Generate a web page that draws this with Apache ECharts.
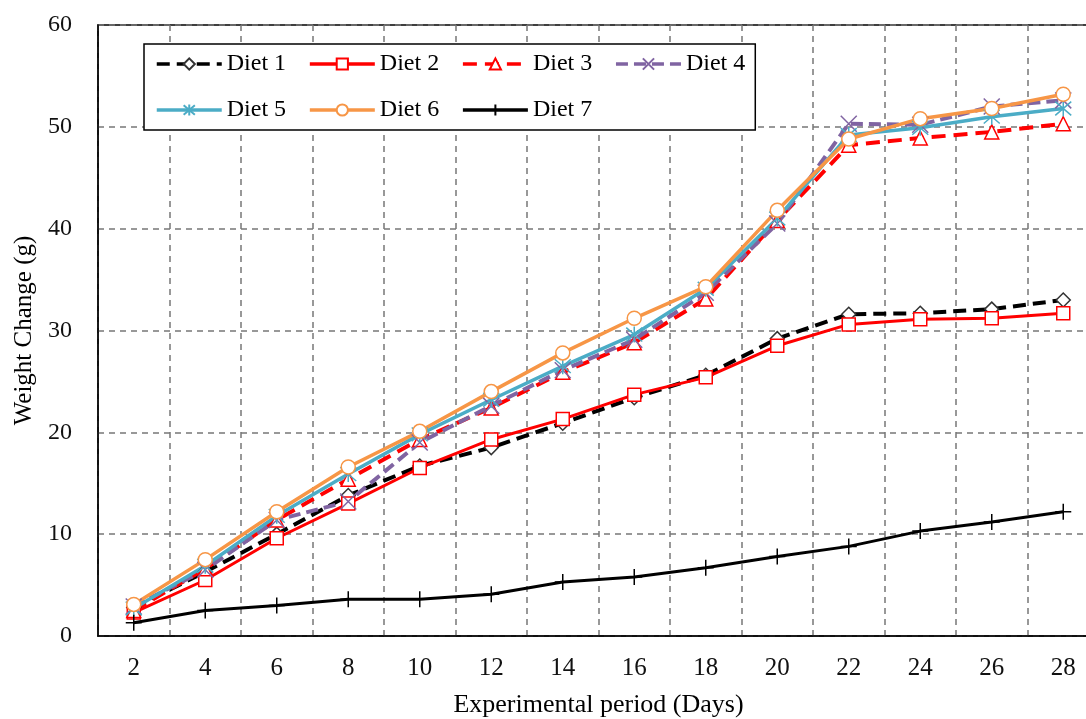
<!DOCTYPE html>
<html>
<head>
<meta charset="utf-8">
<style>
  html, body { margin: 0; padding: 0; background: #fff; }
  #chart-container { width: 1086px; height: 719px; }
</style>
<script src="https://cdn.jsdelivr.net/npm/echarts@6/dist/echarts.min.js"></script>
</head>
<body>
<div id="chart-container"></div>
<script>
var days = ['2', '4', '6', '8', '10', '12', '14', '16', '18', '20', '22', '24', '26', '28'];
var yTicks = [0, 10, 20, 30, 40, 50, 60];

var diet1 = [2.8, 6.3, 10.0, 13.8, 16.7, 18.5, 20.9, 23.4, 25.6, 29.2, 31.6, 31.7, 32.1, 33.0];
var diet2 = [2.3, 5.5, 9.6, 13.0, 16.5, 19.3, 21.3, 23.7, 25.4, 28.5, 30.6, 31.1, 31.2, 31.7];
var diet3 = [2.5, 6.6, 11.4, 15.4, 19.3, 22.4, 25.9, 28.8, 33.1, 40.8, 48.2, 48.9, 49.5, 50.3];
var diet4 = [2.9, 6.5, 11.4, 13.2, 19.0, 22.6, 26.1, 29.1, 33.7, 40.5, 50.3, 50.2, 52.0, 52.6];
var diet5 = [2.7, 6.9, 11.8, 15.9, 19.8, 23.2, 26.5, 29.6, 34.1, 41.0, 49.2, 49.9, 51.0, 51.8];
var diet6 = [3.1, 7.5, 12.2, 16.6, 20.1, 24.0, 27.8, 31.2, 34.3, 41.8, 48.8, 50.8, 51.8, 53.2];
var diet7 = [1.3, 2.5, 3.0, 3.6, 3.6, 4.1, 5.3, 5.8, 6.7, 7.8, 8.8, 10.3, 11.2, 12.2];

var serif = '"Liberation Serif", "DejaVu Serif", serif';

var dom = document.getElementById('chart-container');
var myChart = echarts.init(dom, null, { renderer: 'canvas' });

// helper for one line series
function makeSeries(name, data, color, lineType, width, symbol, size, fill) {
  return {
    name: name,
    type: 'line',
    data: data,
    symbol: symbol,
    symbolSize: size,
    showAllSymbol: true,
    lineStyle: { color: color, width: width, type: lineType },
    itemStyle: { color: fill, borderColor: color, borderWidth: 1.5 },
    emphasis: { disabled: true },
  };
}

var option = {
  animation: false,
  backgroundColor: '#fff',
  grid: {
    left: 98,
    top: 25,
    width: 1001,
    height: 611,
    outerBoundsMode: 'none',
    containLabel: false,
    show: true,
    borderColor: '#000',
    borderWidth: 1.5,
  },
  legend: {
    left: 144,
    top: 44,
    width: 600,
    padding: [8, 10, 8, 11],
    backgroundColor: '#fff',
    borderColor: '#000',
    borderWidth: 1.5,
    itemWidth: 65,
    itemHeight: 14,
    itemGap: 22,
    lineStyle: { width: 3.5 },
    textStyle: { fontSize: 24, fontFamily: serif, color: '#000', lineHeight: 22 },
    data: ['Diet 1', 'Diet 2', 'Diet 3', 'Diet 4', 'Diet 5', 'Diet 6', 'Diet 7'],
  },
  xAxis: {
    type: 'category',
    data: days,
    boundaryGap: true,
    name: 'Experimental period (Days)',
    nameLocation: 'middle',
    nameGap: 56,
    nameTextStyle: { fontSize: 26, fontFamily: serif, color: '#000' },
    axisLine: { lineStyle: { color: '#000', width: 1.5 } },
    axisTick: { show: false },
    axisLabel: { fontSize: 25, fontFamily: serif, color: '#111', margin: 20 },
    splitLine: { show: true, lineStyle: { color: '#777', width: 1.5, type: [6, 5] } },
  },
  yAxis: {
    type: 'value',
    min: yTicks[0],
    max: yTicks[yTicks.length - 1],
    interval: 10,
    name: 'Weight Change (g)',
    nameLocation: 'middle',
    nameGap: 60,
    nameTextStyle: { fontSize: 25, fontFamily: serif, color: '#000' },
    axisLine: { show: true, lineStyle: { color: '#000', width: 1.5 } },
    axisTick: { show: false },
    axisLabel: { fontSize: 24, fontFamily: serif, color: '#111', margin: 26 },
    splitLine: { show: true, lineStyle: { color: '#777', width: 1.5, type: [6, 5] } },
  },
  series: [
    makeSeries('Diet 1', diet1, '#000', [13, 7], 4, 'diamond', 14, '#fff'),
    makeSeries('Diet 2', diet2, '#ff0000', 'solid', 3, 'rect', 13, '#fff'),
    makeSeries('Diet 3', diet3, '#ff0000', [14, 8], 4, 'triangle', 14, '#fff'),
    makeSeries('Diet 4', diet4, '#8064a2', [12, 6], 4, 'path://M0,0L10,10M10,0L0,10', 16, '#fff'),
    makeSeries('Diet 5', diet5, '#4bacc6', 'solid', 3.5, 'path://M5,0L5,10M0.7,0.7L9.3,9.3M0.7,9.3L9.3,0.7', 16, '#fff'),
    makeSeries('Diet 6', diet6, '#f79646', 'solid', 3.5, 'circle', 14, '#fff'),
    makeSeries('Diet 7', diet7, '#000', 'solid', 3, 'path://M5,0L5,10M0,5L10,5', 16, '#fff'),
  ],
};

option.series[0].itemStyle.borderColor = '#333';

if (option && typeof option === 'object') {
  myChart.setOption(option);
}

window.addEventListener('resize', myChart.resize);
</script>
</body>
</html>
